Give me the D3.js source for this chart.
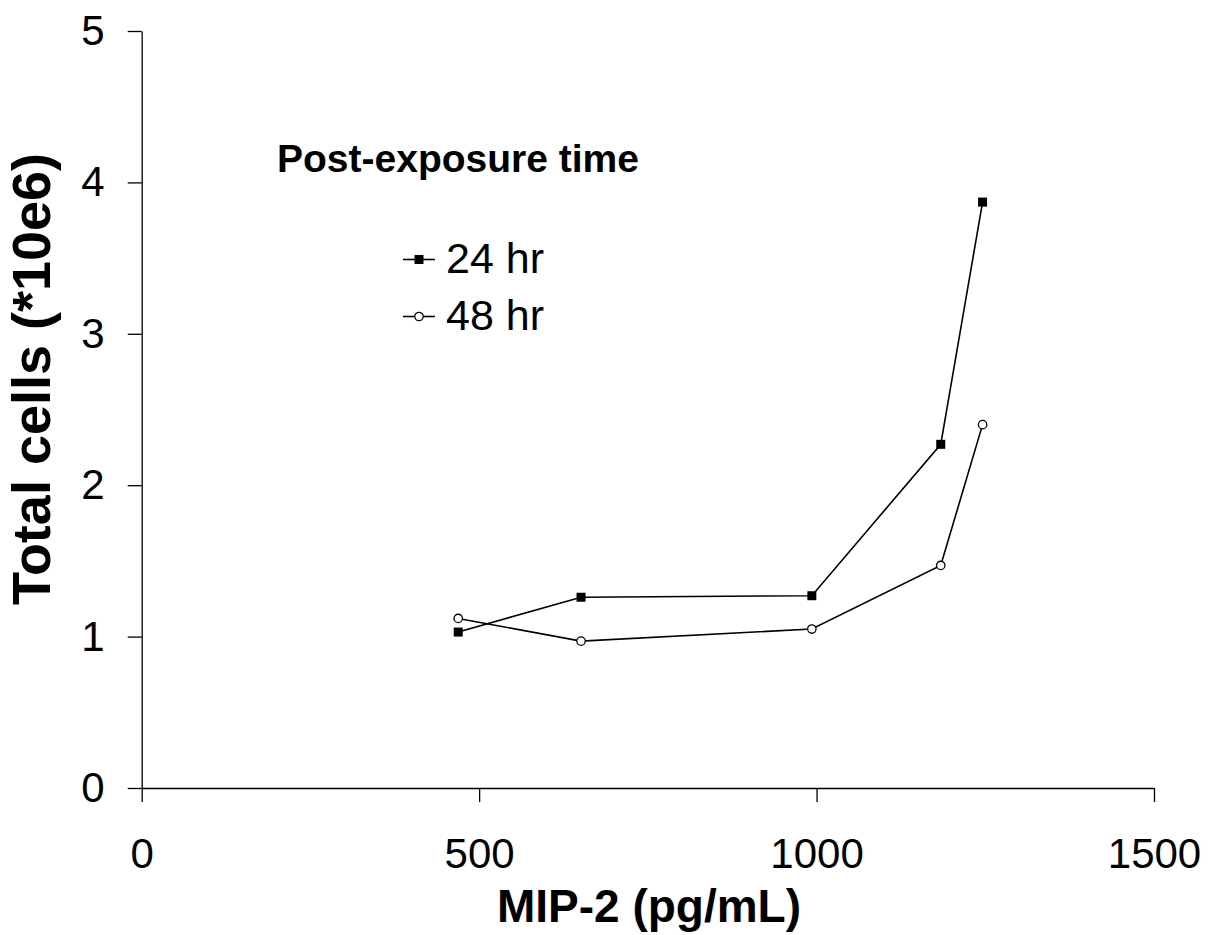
<!DOCTYPE html>
<html>
<head>
<meta charset="utf-8">
<script src="https://cdn.jsdelivr.net/npm/d3@7"></script>
<style>
  body { margin: 0; background: #fff; }
  svg { font-family: "Liberation Sans", Arial, sans-serif; }
</style>
</head>
<body>
<svg width="1208" height="935"></svg>
<script>
// データ
var mip2 = [469, 651, 993, 1184, 1246];
var cells24 = [1.03, 1.26, 1.27, 2.27, 3.87];
var cells48 = [1.12, 0.97, 1.05, 1.47, 2.40];
var xTicks = [0, 500, 1000, 1500];
var yTicks = [0, 1, 2, 3, 4, 5];
var legendLabels = ["24 hr", "48 hr"];

var svg = d3.select("svg");

var x = d3.scaleLinear().domain([0, 1500]).range([141.7, 1154]);
var y = d3.scaleLinear().domain([0, 5]).range([788, 31]);

// 軸
var xAxis = svg.append("g")
  .attr("transform", "translate(0,788)")
  .call(d3.axisBottom(x).tickValues(xTicks).tickFormat(d3.format("d"))
    .tickSize(14).tickSizeOuter(0).tickPadding(36));
var yAxis = svg.append("g")
  .attr("transform", "translate(141.7,0)")
  .call(d3.axisLeft(y).tickValues(yTicks).tickFormat(d3.format("d"))
    .tickSize(14).tickSizeOuter(0).tickPadding(23));

[xAxis, yAxis].forEach(function (g) {
  g.selectAll("path, line").attr("stroke", "#000").attr("stroke-width", 1.3);
  g.selectAll("text").attr("fill", "#000").style("font-size", "42px")
    .style("font-family", "'Liberation Sans', Arial, sans-serif");
});

// 軸タイトル
svg.append("text")
  .attr("x", 649).attr("y", 922)
  .attr("text-anchor", "middle")
  .style("font-size", "46px").style("font-weight", "bold")
  .text("MIP-2 (pg/mL)");

svg.append("text")
  .attr("transform", "translate(50,379) rotate(-90)")
  .attr("text-anchor", "middle")
  .style("font-size", "54px").style("font-weight", "bold")
  .text("Total cells (*10e6)");

// 折れ線
var line = d3.line()
  .x(function (d) { return x(d[0]); })
  .y(function (d) { return y(d[1]); });

var series = [
  { values: d3.zip(mip2, cells24), filled: true },
  { values: d3.zip(mip2, cells48), filled: false }
];

series.forEach(function (s) {
  svg.append("path")
    .datum(s.values)
    .attr("d", line)
    .attr("fill", "none")
    .attr("stroke", "#000")
    .attr("stroke-width", 1.6);
});

// マーカー
function drawMarker(sel, filled) {
  if (filled) {
    sel.append("rect")
      .attr("x", -4.5).attr("y", -4.5)
      .attr("width", 9).attr("height", 9)
      .attr("fill", "#000");
  } else {
    sel.append("circle")
      .attr("r", 4.2)
      .attr("fill", "#fff")
      .attr("stroke", "#000")
      .attr("stroke-width", 1.3);
  }
}

series.forEach(function (s) {
  svg.selectAll(null)
    .data(s.values)
    .enter()
    .append("g")
      .attr("transform", function (d) { return "translate(" + x(d[0]) + "," + y(d[1]) + ")"; })
      .each(function () { drawMarker(d3.select(this), s.filled); });
});

// 凡例
svg.append("text")
  .attr("x", 277).attr("y", 172)
  .style("font-size", "39px").style("font-weight", "bold")
  .text("Post-exposure time");

var legend = svg.selectAll(".legend")
  .data(legendLabels)
  .enter()
  .append("g")
    .attr("class", "legend")
    .attr("transform", function (d, i) { return "translate(0," + (259.5 + i * 57) + ")"; });

legend.append("line")
  .attr("x1", 403).attr("x2", 435)
  .attr("stroke", "#000").attr("stroke-width", 1.6);

legend.each(function (d, i) {
  var g = d3.select(this).append("g").attr("transform", "translate(419,0)");
  drawMarker(g, i === 0);
});

legend.append("text")
  .attr("x", 446).attr("y", 13.5)
  .style("font-size", "43px")
  .text(function (d) { return d; });
</script>
</body>
</html>
